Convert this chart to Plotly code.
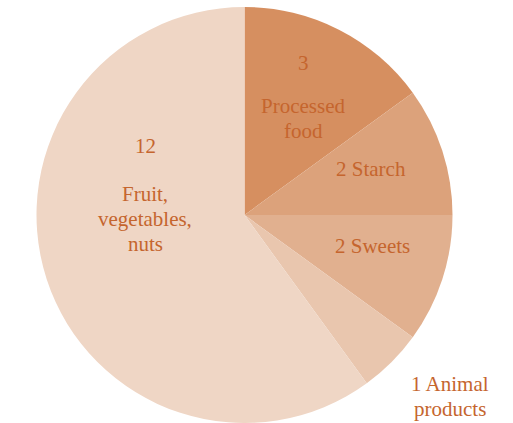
import plotly.graph_objects as go

# Daily servings by food group
labels = ["Processed food", "Starch", "Sweets", "Animal products", "Fruit, vegetables, nuts"]
values = [3, 2, 2, 1, 12]
colors = ["#d68f60", "#dca27b", "#e1b08f", "#e9c6ae", "#efd6c5"]

# How each slice's caption is broken into lines; the count is either on its
# own line above the name or prefixed to the first word.
name_lines = [["Processed", "food"], ["Starch"], ["Sweets"], ["Animal", "products"],
              ["Fruit,", "vegetables,", "nuts"]]
count_own_line = [True, False, False, False, True]

# Caption anchor for each slice (pixel centre x, centre y of first line) and line pitch
caption_pos = [(303, 62.5), (371, 169), (372, 246), (450, 383.5), (145, 146)]
first_gap = [44, 0, 0, 0, 48]
line_pitch = 25

W, H = 513, 423
TEXT = "#c5652e"
FONT = "Liberation Serif, Times New Roman, serif"

fig = go.Figure(go.Pie(
    labels=labels,
    values=values,
    sort=False,
    direction="clockwise",
    rotation=0,
    marker=dict(colors=colors, line=dict(width=0)),
    textinfo="none",
    hoverinfo="label+value",
    showlegend=False,
    domain=dict(x=[36.5 / W, 452.5 / W], y=[0.0, 1 - 7 / H]),
))

annotations = []
for val, lines, own, (px, py), gap in zip(values, name_lines, count_own_line,
                                         caption_pos, first_gap):
    if own:
        rows = [(str(val), py)] + [(t, py + gap + i * line_pitch) for i, t in enumerate(lines)]
    else:
        rows = [(f"{val} {lines[0]}", py)] + [(t, py + (i + 1) * line_pitch)
                                               for i, t in enumerate(lines[1:])]
    for text, y in rows:
        annotations.append(dict(
            text=text, x=px / W, y=1 - y / H, xref="paper", yref="paper",
            xanchor="center", yanchor="middle", showarrow=False,
            font=dict(family=FONT, size=21, color=TEXT),
        ))

fig.update_layout(
    width=W, height=H,
    margin=dict(l=0, r=0, t=0, b=0),
    paper_bgcolor="white",
    plot_bgcolor="white",
    annotations=annotations,
)

fig.write_html("out.html")
